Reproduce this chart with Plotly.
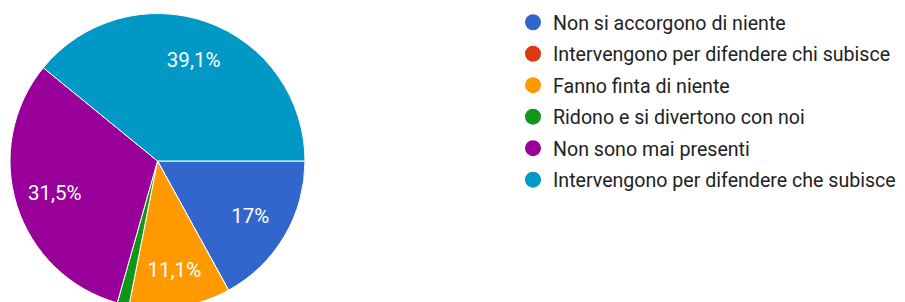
import plotly.graph_objects as go

categories = [
    "Non si accorgono di niente",
    "Intervengono per difendere chi subisce",
    "Fanno finta di niente",
    "Ridono e si divertono con noi",
    "Non sono mai presenti",
    "Intervengono per difendere che subisce",
]
percentages = [17.0, 0.0, 11.1, 1.3, 31.5, 39.1]
colors = ["#3366cc", "#dc3912", "#ff9900", "#109618", "#990099", "#0099c6"]


def fmt(v):
    if v < 5:
        return ""
    s = f"{v:.1f}".rstrip("0").rstrip(".")
    return s.replace(".", ",") + "%"


labels_text = [fmt(v) for v in percentages]

W, H = 905, 310
cx, cy, r = 157.5, 161.0, 147.5
dom = dict(x=[(cx - r) / W, (cx + r) / W],
           y=[(H - (cy + r)) / H, (H - (cy - r)) / H])

fig = go.Figure()
# coloured slices
fig.add_trace(go.Pie(
    labels=categories,
    values=percentages,
    textinfo="none",
    sort=False,
    direction="clockwise",
    rotation=90,
    marker=dict(colors=colors, line=dict(color="white", width=1)),
    showlegend=False,
    hoverinfo="skip",
    domain=dom,
))
# percentage labels placed in the outer ring of the same pie
fig.add_trace(go.Pie(
    labels=categories,
    values=percentages,
    text=labels_text,
    textinfo="text",
    textposition="inside",
    insidetextorientation="horizontal",
    hole=0.46,
    sort=False,
    direction="clockwise",
    rotation=90,
    marker=dict(colors=["rgba(0,0,0,0)"] * len(colors), line=dict(width=0)),
    insidetextfont=dict(family="Roboto", size=20.5, color="white"),
    showlegend=False,
    hoverinfo="label+percent",
    domain=dom,
))

for i, (name, c) in enumerate(zip(categories, colors)):
    fig.add_trace(go.Scatter(
        x=[None], y=[None], mode="markers", name=name,
        legendgroup=f"g{i}",
        marker=dict(symbol="circle", size=16, color=c),
    ))

fig.update_layout(
    width=W, height=H,
    margin=dict(l=0, r=0, t=0, b=0),
    paper_bgcolor="white",
    plot_bgcolor="white",
    font=dict(family="Roboto", color="#222222"),
    xaxis=dict(visible=False),
    yaxis=dict(visible=False),
    showlegend=True,
    legend=dict(
        x=513 / W, y=1 - 3 / H, xanchor="left", yanchor="top",
        font=dict(family="Roboto", size=19.6, color="#222222"),
        tracegroupgap=3,
        bgcolor="rgba(0,0,0,0)",
    ),
)

fig.write_html(
    "out.html",
    config={"displayModeBar": False},
    post_script="document.body.style.overflow='hidden';document.body.style.margin='0';",
)
